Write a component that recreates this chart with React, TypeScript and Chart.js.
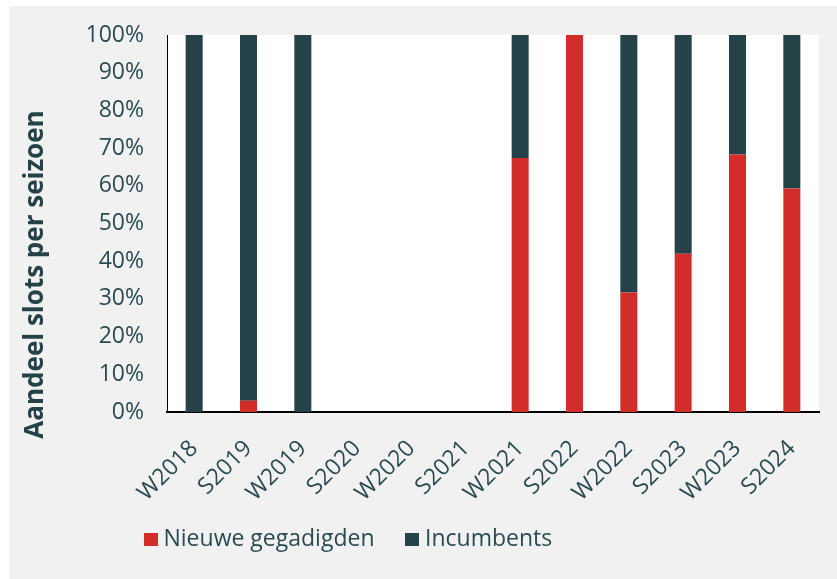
import React, { useEffect, useRef } from "react";
import { Chart, registerables } from "chart.js";

Chart.register(...registerables);

const categories = ["W2018", "S2019", "W2019", "S2020", "W2020", "S2021", "W2021", "S2022", "W2022", "S2023", "W2023", "S2024"];
const nieuweGegadigden = [0, 3, 0, 0, 0, 0, 67.4, 100, 31.7, 42, 68.3, 59.3];
const incumbents = [100, 97, 100, 0, 0, 0, 32.6, 0, 68.3, 58, 31.7, 40.7];
const yTicks = [0, 10, 20, 30, 40, 50, 60, 70, 80, 90, 100];
const yTitle = "Aandeel slots per seizoen";
const seriesNames = ["Nieuwe gegadigden", "Incumbents"];

const RED = "#d22d2b";
const TEAL = "#264249";
const TEXT = "#2b4a52";
const FONT = "'Open Sans', 'Noto Sans', sans-serif";

const CANVAS_W = 828;
const CANVAS_H = 573;
const PLOT_BOTTOM = 406;
const LEGEND_PAD = 37;

function swatch(color: string) {
  const c = document.createElement("canvas");
  c.width = 14;
  c.height = 13;
  const g = c.getContext("2d")!;
  g.fillStyle = color;
  g.fillRect(0, 0, 14, 13);
  return c;
}

const plotBgPlugin = {
  id: "plotBg",
  beforeDraw(chart: any) {
    const { ctx, chartArea } = chart;
    ctx.save();
    ctx.fillStyle = "#ffffff";
    ctx.fillRect(chartArea.left, chartArea.top, chartArea.right - chartArea.left, chartArea.bottom - chartArea.top);
    ctx.restore();
  },
};

const legendPosPlugin = {
  id: "legendPos",
  afterLayout(chart: any) {
    const lg = chart.legend;
    if (!lg) return;
    const w = lg.width;
    const h = lg.height;
    lg.left = 104;
    lg.right = lg.left + w;
    lg.top = 533 - LEGEND_PAD - 11.5;
    lg.bottom = lg.top + h;
  },
};

const yTitlePlugin = {
  id: "yTitle",
  afterDraw(chart: any) {
    const { ctx, chartArea } = chart;
    ctx.save();
    ctx.translate(34, (chartArea.top + chartArea.bottom) / 2 + 51);
    ctx.rotate(-Math.PI / 2);
    ctx.font = `bold 26px ${FONT}`;
    ctx.fillStyle = TEAL;
    ctx.textAlign = "center";
    ctx.textBaseline = "alphabetic";
    ctx.fillText(yTitle, 0, 0);
    ctx.restore();
  },
};

export default function App() {
  const ref = useRef<HTMLCanvasElement | null>(null);
  useEffect(() => {
    if (!ref.current) return;
    const swatches = [swatch(RED), swatch(TEAL)];
    const chart = new Chart(ref.current, {
      type: "bar",
      data: {
        labels: categories,
        datasets: [
          { label: seriesNames[0], data: nieuweGegadigden, backgroundColor: RED, borderWidth: 0 },
          { label: seriesNames[1], data: incumbents, backgroundColor: TEAL, borderWidth: 0 },
        ],
      },
      options: {
        animation: false,
        responsive: false,
        maintainAspectRatio: false,
        layout: { padding: { top: 29, right: 18, left: 0, bottom: 0 } },
        datasets: { bar: { barPercentage: 0.313, categoryPercentage: 1 } },
        plugins: {
          tooltip: { enabled: false },
          legend: {
            position: "bottom",
            align: "start",
            labels: {
              usePointStyle: true,
              boxWidth: 2,
              boxHeight: 14,
              padding: LEGEND_PAD,
              color: TEXT,
              font: { family: FONT, size: 23 },
              generateLabels(chart: any) {
                const items = Chart.defaults.plugins.legend.labels.generateLabels(chart);
                return items.map((it: any, i: number) => ({ ...it, pointStyle: swatches[i] }));
              },
            },
          },
        },
        scales: {
          x: {
            stacked: true,
            grid: { display: false, drawTicks: false },
            border: { display: true, color: "#000", width: 2 },
            ticks: {
              color: TEXT,
              font: { family: FONT, size: 23 },
              minRotation: 45,
              maxRotation: 45,
              padding: 23,
              autoSkip: false,
            },
            afterFit(scale: any) {
              const lh = scale.chart.legend ? scale.chart.legend.height : 0;
              scale.height = CANVAS_H - PLOT_BOTTOM - lh;
              scale.paddingLeft = 0;
              scale.paddingRight = 0;
            },
          },
          y: {
            stacked: true,
            min: 0,
            max: 100,
            grid: { display: false, drawTicks: false },
            border: { display: true, color: "#000", width: 1 },
            afterBuildTicks(scale: any) {
              scale.ticks = yTicks.map((v) => ({ value: v }));
            },
            ticks: {
              color: TEXT,
              font: { family: FONT, size: 23 },
              padding: 23,
              callback: (v: any) => `${v}%`,
            },
            afterFit(scale: any) {
              scale.width = 158;
              scale.paddingTop = 0;
              scale.paddingBottom = 0;
            },
          },
        },
      },
      plugins: [plotBgPlugin, legendPosPlugin, yTitlePlugin],
    });
    return () => chart.destroy();
  }, []);
  return (
    <div style={{ position: "absolute", left: 9, top: 6, width: CANVAS_W, height: CANVAS_H, background: "#f1f1f1" }}>
      <canvas ref={ref} width={CANVAS_W} height={CANVAS_H} style={{ display: "block", width: CANVAS_W, height: CANVAS_H }} />
    </div>
  );
}
